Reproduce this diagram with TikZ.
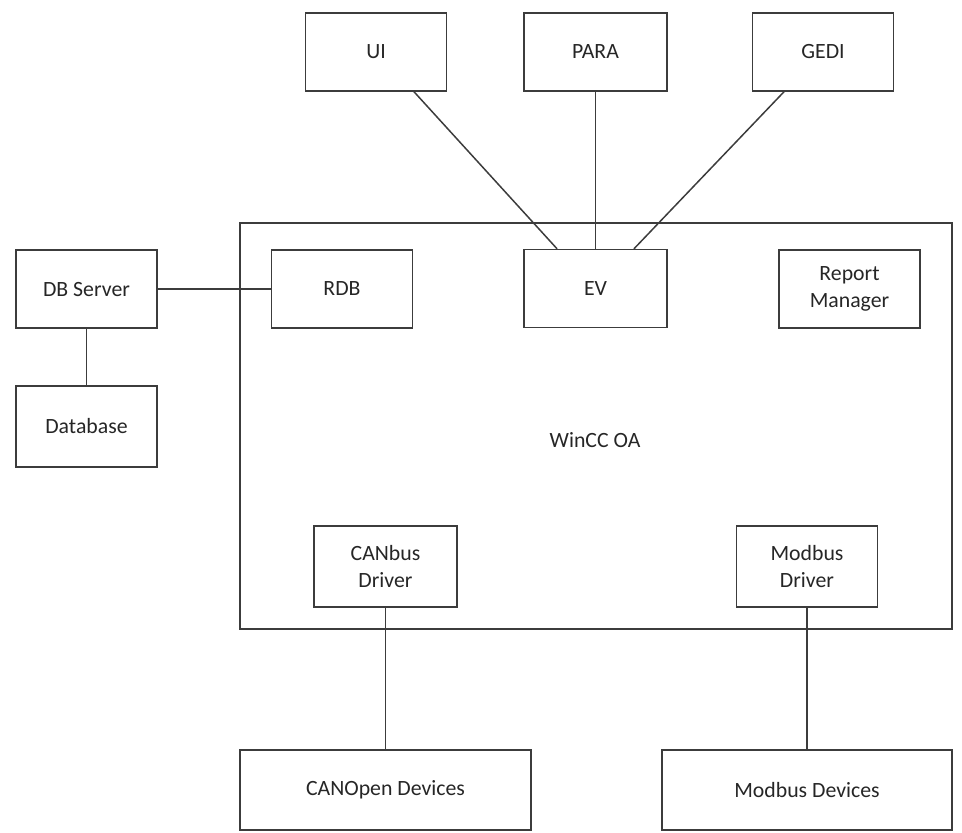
\documentclass[tikz,border=0pt]{standalone}
\usepackage{fontspec}
\setmainfont{Carlito}
\definecolor{trait}{RGB}{60,60,60}

\tikzset{boite/.style={draw=trait,line width=0.85pt,minimum width=2.82cm,minimum height=1.56cm,
  inner sep=0pt,align=center,text=black!85,font=\fontsize{12.4}{15.2}\selectfont},
  lien/.style={trait,line width=0.85pt}}

\begin{document}
\begin{tikzpicture}[x=0.02cm,y=-0.02cm]
\useasboundingbox (0,0) rectangle (962,832);
% cadre WinCC OA
\node[boite,minimum width=14.24cm,minimum height=8.12cm] (wincc) at (596,426) {};
\node[text=black!85,font=\fontsize{12.4}{15.2}\selectfont] (winccl) at (595,440) {WinCC OA};

% managers du haut
\node[boite] (ui) at (376,52) {UI};
\node[boite,minimum width=2.86cm] (para) at (595.5,52) {PARA};
\node[boite] (gedi) at (823,52) {GEDI};

% base de donnees
\node[boite] (dbs) at (86.5,289) {DB Server};
\node[boite,minimum height=1.62cm] (db) at (86.5,426.5) {Database};

% managers internes
\node[boite] (rdb) at (342,289) {RDB};
\node[boite,minimum width=2.86cm] (ev) at (595.5,288.5) {EV};
\node[boite] (rep) at (849.5,289) {Report\\Manager};
\node[boite,minimum width=2.86cm,minimum height=1.62cm] (canbus) at (385.5,566.5) {CANbus\\Driver};
\node[boite,minimum height=1.62cm] (modbus) at (807,566.5) {Modbus\\Driver};

% peripheriques
\node[boite,minimum width=5.82cm,minimum height=1.6cm] (canopen) at (385.5,790) {CANOpen Devices};
\node[boite,minimum width=5.8cm,minimum height=1.6cm] (modbusdev) at (807,790) {Modbus Devices};

% liaisons
\draw [lien] ([xshift=0.76cm]ui.south) -- ([xshift=-0.77cm]ev.north);
\draw [lien] (para) -- (ev);
\draw [lien] ([xshift=-0.78cm]gedi.south) -- ([xshift=0.77cm]ev.north);
\draw [lien] (dbs) -- (rdb);
\draw [lien] (dbs) -- (db);
\draw [lien] (canbus) -- (canopen);
\draw [lien] (modbus) -- (modbusdev);
\end{tikzpicture}
\end{document}
